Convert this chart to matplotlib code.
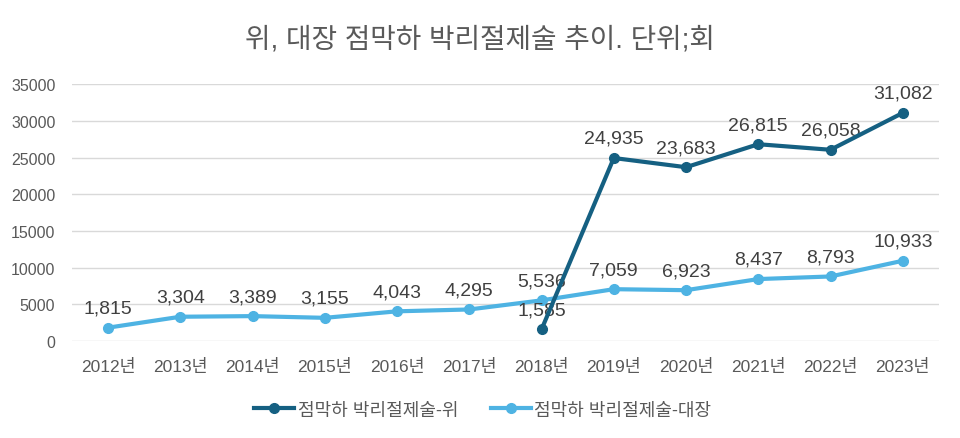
import matplotlib
matplotlib.use("Agg")
import numpy as np
import matplotlib.pyplot as plt

plt.rcParams['font.family'] = ['Liberation Sans', 'Noto Sans CJK KR', 'DejaVu Sans']

years = ['2012년', '2013년', '2014년', '2015년', '2016년', '2017년',
         '2018년', '2019년', '2020년', '2021년', '2022년', '2023년']
stomach = [None, None, None, None, None, None,
           1585, 24935, 23683, 26815, 26058, 31082]
colon = [1815, 3304, 3389, 3155, 4043, 4295, 5536, 7059, 6923, 8437, 8793, 10933]

c_dark = '#156082'
c_light = '#4EB3E3'
txt = '#595959'

fig = plt.figure(figsize=(9.6, 4.39), dpi=100)
ax = fig.add_axes([0.075, 0.221, 0.903, 0.585])

x = np.arange(len(years))
sx = [i for i, v in enumerate(stomach) if v is not None]
sy = [v for v in stomach if v is not None]

ax.plot(sx, sy, color=c_dark, lw=3, marker='o', ms=7, label='점막하 박리절제술-위', zorder=5)
ax.plot(x, colon, color=c_light, lw=3, marker='o', ms=7, label='점막하 박리절제술-대장', zorder=3)

# data labels sit between the two lines
for i, v in zip(sx, sy):
    ax.annotate(f'{v:,}', (i, v), xytext=(0, 8), textcoords='offset points',
                ha='center', va='bottom', fontsize=14, color='#404040', zorder=4)
for i, v in zip(x, colon):
    ax.annotate(f'{v:,}', (i, v), xytext=(0, 8), textcoords='offset points',
                ha='center', va='bottom', fontsize=14, color='#404040', zorder=4)

ax.set_xlim(-0.5, 11.5)
ax.set_ylim(0, 35000)
ax.set_yticks(np.arange(0, 35001, 5000))
ax.set_xticks(x)
ax.set_xticklabels(years)
ax.grid(axis='y', color='#D9D9D9', lw=1)
ax.set_axisbelow(True)
for s in ax.spines.values():
    s.set_visible(False)
ax.tick_params(length=0, colors=txt)
ax.tick_params(axis='x', pad=12, labelsize=12.5)
ax.tick_params(axis='y', pad=12, labelsize=11.5)

fig.suptitle('위, 대장 점막하 박리절제술 추이. 단위;회', y=0.909, va='center',
             fontsize=20, color=txt)
fig.legend(loc='center', bbox_to_anchor=(0.503, 0.064), ncol=2, frameon=False,
           fontsize=13, labelcolor=txt, handlelength=2.2, handletextpad=0.2,
           columnspacing=1.8)

fig.savefig('out.png', dpi=100)
